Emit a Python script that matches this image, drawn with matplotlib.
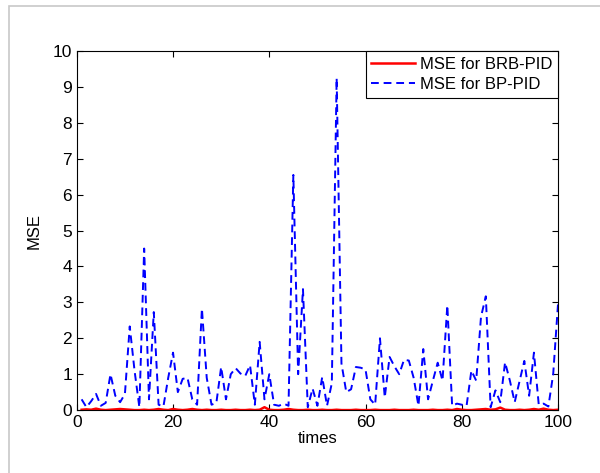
import numpy as np
import matplotlib
matplotlib.use('Agg')
import matplotlib.pyplot as plt
from matplotlib.patches import Rectangle

# sample index 1..100
times = np.arange(1, 101)

# MSE for BP-PID
mse_bp = [0.30, 0.08, 0.25, 0.45, 0.12, 0.20, 1.00, 0.40, 0.22, 0.45,
          2.33, 1.10, 0.08, 4.50, 0.30, 2.73, 0.15, 0.10, 0.90, 1.60,
          0.50, 0.87, 0.90, 0.30, 0.15, 2.83, 0.90, 0.15, 0.20, 1.20,
          0.30, 1.00, 1.17, 1.02, 0.95, 1.25, 0.15, 1.90, 0.30, 1.00,
          0.15, 0.12, 0.18, 0.12, 6.55, 1.00, 3.37, 0.08, 0.60, 0.12,
          0.92, 0.12, 0.75, 9.25, 1.30, 0.50, 0.58, 1.20, 1.18, 1.13,
          0.30, 0.15, 2.00, 0.35, 1.48, 1.22, 1.00, 1.40, 1.38, 0.90,
          0.12, 1.70, 0.30, 0.82, 1.32, 0.82, 2.92, 0.12, 0.18, 0.15,
          0.12, 1.10, 0.82, 2.60, 3.17, 0.08, 0.55, 0.22, 1.33, 0.82,
          0.22, 0.80, 1.37, 0.40, 1.60, 0.15, 0.18, 0.10, 1.00, 2.95]

# MSE for BRB-PID, close to zero throughout
mse_brb = [0.01, 0.02, 0.01, 0.04, 0.01, 0.00, 0.01, 0.02, 0.03, 0.02,
           0.01, 0.00, 0.00, 0.01, 0.00, 0.01, 0.03, 0.01, 0.00, 0.03,
           0.01, 0.00, 0.01, 0.03, 0.01, 0.00, 0.01, 0.00, 0.00, 0.01,
           0.00, 0.00, 0.01, 0.00, 0.00, 0.01, 0.00, 0.01, 0.08, 0.01,
           0.00, 0.00, 0.01, 0.03, 0.01, 0.00, 0.00, 0.01, 0.00, 0.00,
           0.01, 0.00, 0.00, 0.01, 0.00, 0.00, 0.00, 0.01, 0.00, 0.00,
           0.00, 0.01, 0.00, 0.00, 0.00, 0.01, 0.00, 0.00, 0.00, 0.01,
           0.00, 0.00, 0.00, 0.01, 0.00, 0.00, 0.01, 0.00, 0.03, 0.01,
           0.00, 0.00, 0.01, 0.02, 0.03, 0.01, 0.02, 0.07, 0.01, 0.00,
           0.00, 0.01, 0.00, 0.01, 0.03, 0.01, 0.04, 0.01, 0.00, 0.01]

plt.rcParams['font.family'] = ['Liberation Sans', 'DejaVu Sans']

fig = plt.figure(figsize=(6.0, 4.73), dpi=100)
# light grey frame around the figure, like the source page
fig.patches.append(Rectangle((9 / 600, -0.05), 1.0, 1 - 6 / 473 + 0.05,
                             transform=fig.transFigure, fill=False,
                             edgecolor='#c8c8c8', linewidth=1.2))

ax = fig.add_axes([0.128, 0.133, 0.802, 0.759])
ax.plot(times, mse_brb, color='red', linewidth=1.8, label='MSE for BRB-PID')
ax.plot(times, mse_bp, color='blue', linestyle='--', linewidth=1.4,
        dashes=(4, 2.5), label='MSE for BP-PID')

ax.set_xlim(0, 100)
ax.set_ylim(0, 10)
ax.set_xticks(np.arange(0, 101, 20))
ax.set_yticks(np.arange(0, 11, 1))
ax.tick_params(direction='in', top=True, right=True, labelsize=12.5, length=4)
ax.set_xlabel('times', fontsize=12, labelpad=1)
ax.set_ylabel('MSE', fontsize=12, labelpad=8)

leg = ax.legend(loc='upper right', fontsize=12, fancybox=False,
                edgecolor='black', framealpha=1, borderaxespad=0,
                handlelength=2.6, handletextpad=0.3, borderpad=0.35,
                labelspacing=0.3)
leg.get_frame().set_linewidth(0.8)

fig.savefig('out.png', dpi=100)
